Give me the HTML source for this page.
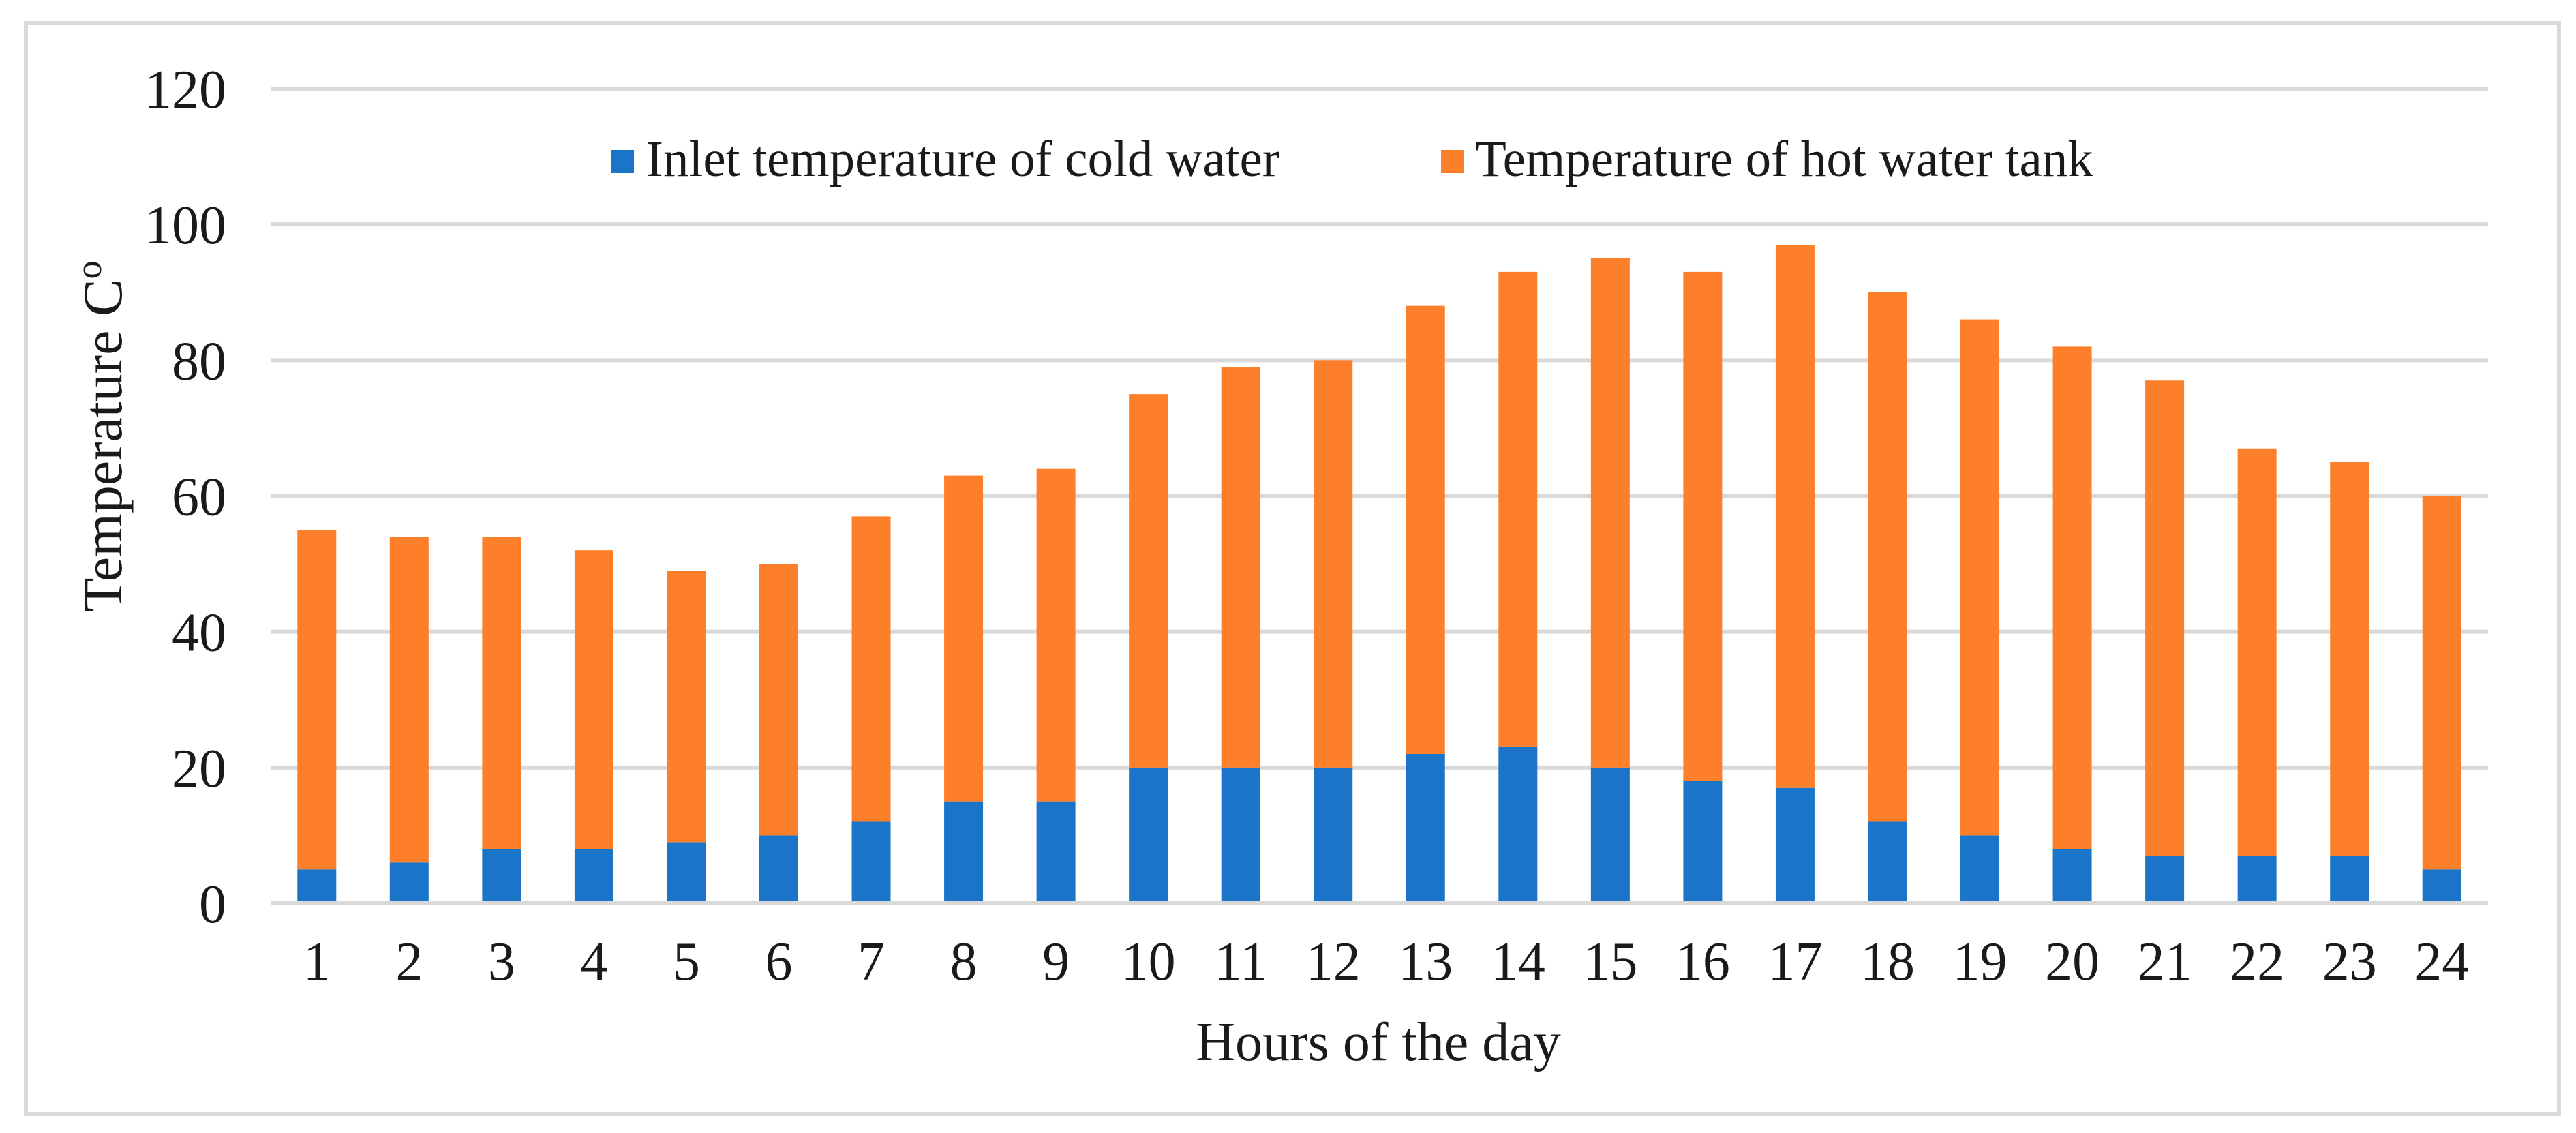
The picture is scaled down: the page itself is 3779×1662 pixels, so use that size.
<!DOCTYPE html>
<html><head><meta charset="utf-8"><style>
html,body{margin:0;padding:0;background:#fff;}
svg{display:block;font-family:"Liberation Serif",serif;}
</style></head><body>
<svg id="chart" width="3779" height="1662" viewBox="0 0 3779 1662" xmlns="http://www.w3.org/2000/svg">
<rect x="38" y="34" width="3716" height="1600" fill="#fff" stroke="#d9d9d9" stroke-width="6"/>
<g id="grid"></g><g id="bars"></g><g id="labels"></g>
<text transform="translate(178,640) rotate(-90)" text-anchor="middle" font-size="82" fill="#1a1a1a">Temperature C<tspan dy="-30" font-size="54">o</tspan></text>
<text x="2022" y="1555" text-anchor="middle" font-size="80" fill="#1a1a1a">Hours of the day</text>
<g>
<rect x="896" y="220" width="34" height="34" fill="#1a75c9"/>
<text x="948" y="258" font-size="75" fill="#1a1a1a">Inlet temperature of cold water</text>
<rect x="2114" y="220" width="34" height="34" fill="#fe7f2a"/>
<text x="2164" y="258" font-size="75" fill="#1a1a1a">Temperature of hot water tank</text>
</g>
</svg>
<script>
const hours = ["1","2","3","4","5","6","7","8","9","10","11","12","13","14","15","16","17","18","19","20","21","22","23","24"];
const coldWater = [5,6,8,8,9,10,12,15,15,20,20,20,22,23,20,18,17,12,10,8,7,7,7,5];
const hotTank = [55,54,54,52,49,50,57,63,64,75,79,80,88,93,95,93,97,90,86,82,77,67,65,60];
const yTicks = [0,20,40,60,80,100,120];

const NS="http://www.w3.org/2000/svg";
const x0=397,x1=3650,yBase=1325,yTop=130,yMax=120;
const step=(x1-x0)/hours.length, bw=57;
const y=v=>yBase-(v/yMax)*(yBase-yTop);
const xc=i=>x0+step*(i+0.5);
function mk(tag,attrs,parent){const e=document.createElementNS(NS,tag);for(const k in attrs)e.setAttribute(k,attrs[k]);parent.appendChild(e);return e;}
const grid=document.getElementById('grid'),bars=document.getElementById('bars'),labels=document.getElementById('labels');
yTicks.forEach(t=>{
  const l=mk('line',{x1:x0,x2:x1,y1:y(t),y2:y(t),stroke:'#d9d9d9','stroke-width':6},grid);
  
  
  const tx=mk('text',{x:332,y:y(t)+28,'text-anchor':'end','font-size':80,fill:'#1a1a1a'},labels);
  tx.textContent=t;
  
  
});
hours.forEach((h,i)=>{
  const c=coldWater[i],tot=hotTank[i];
  const b1=mk('rect',{x:xc(i)-bw/2,y:y(c),width:bw,height:y(0)-y(c)-3,fill:'#1a75c9'},bars);
  
  
  const b2=mk('rect',{x:xc(i)-bw/2,y:y(tot),width:bw,height:y(c)-y(tot),fill:'#fe7f2a'},bars);
  
  
  const tx=mk('text',{x:xc(i),y:1437,'text-anchor':'middle','font-size':80,fill:'#1a1a1a'},labels);
  tx.textContent=h;
  
  
});
</script>
</body></html>
